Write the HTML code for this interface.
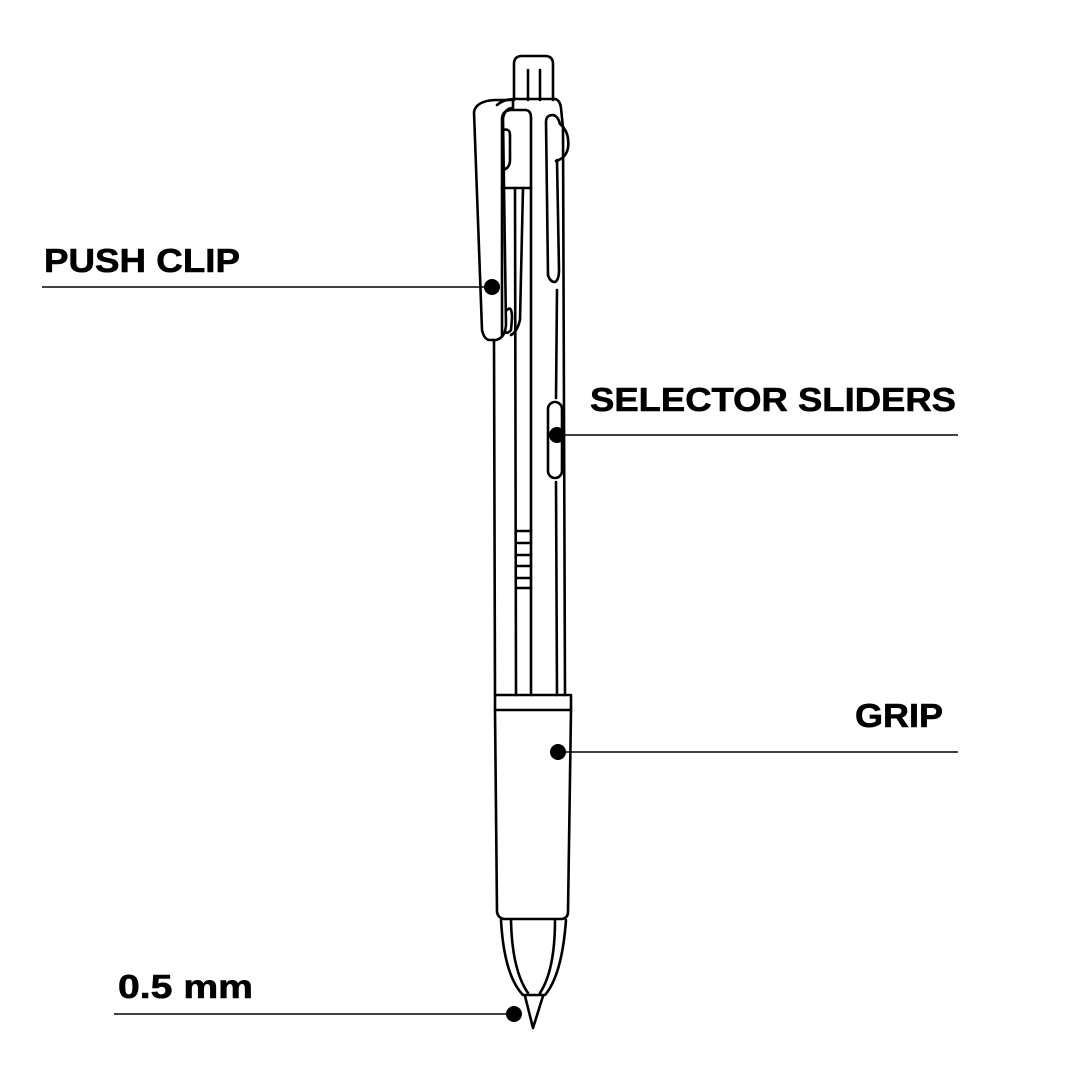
<!DOCTYPE html>
<html><head><meta charset="utf-8"><style>
html,body{margin:0;padding:0;background:#fff;}
svg{display:block}
text{font-family:"Liberation Sans",sans-serif;font-weight:bold;font-size:33px;fill:#000;stroke:#000;stroke-width:0.6;}
</style></head><body>
<svg width="1080" height="1080" viewBox="0 0 1080 1080" xmlns="http://www.w3.org/2000/svg">
<g fill="none" stroke="#000" stroke-width="2.6" stroke-linejoin="round" stroke-linecap="round">
  <path d="M514,100 L514,64 Q514,56 522,56 L545,56 Q553,56 553,64 L553,100"/>
  <line x1="528" y1="70" x2="528" y2="100"/>
  <line x1="540" y1="70" x2="540" y2="100"/>
  <path d="M497,105 Q505,98 520,99 L555,99 Q560,100 561,108 L563,128 L565,695"/>
  <path d="M502,335 L502,120 Q502,110 512,110 L525,110 Q531,110 531,118 L531,695"/>
  <path d="M502,188 L531,188"/>
  <path d="M503,130 Q510,128 510,135 L510,160 Q510,168 503,170"/>
  <path d="M474,112 Q476,101 495,100 L513,100 L513,108 Q505,108 503,118 L506,325 Q505,338 496,340 L489,340 Q484,339 482,330 L474,112 Z"/>
  <path d="M507,310 Q512,305 512,318 L511,330 Q508,334 505,332"/>
  <path d="M515,188 L516,695"/>
  <path d="M523,188 L520,320 Q517,332 511,335"/>
  <path d="M548,275 L546,122 Q546,115 553,115 Q558,116 560,124 Q570,132 568,148 Q566,158 556,161"/>
  <path d="M548,275 Q550,282 555,282 Q559,280 559,270 L557,160"/>
  <line x1="557" y1="290" x2="556" y2="398"/>
  <rect x="548" y="402" width="14" height="76" rx="7"/>
  <line x1="556" y1="482" x2="557" y2="695"/>
  <line x1="494" y1="340" x2="495" y2="695"/>
  <line x1="516" y1="531" x2="531" y2="531"/>
  <line x1="516" y1="543" x2="531" y2="543"/>
  <line x1="516" y1="555" x2="531" y2="555"/>
  <line x1="516" y1="566" x2="531" y2="566"/>
  <line x1="516" y1="578" x2="531" y2="578"/>
  <line x1="516" y1="588" x2="531" y2="588"/>
  <path d="M495,695 L571,695 L571,710 L495,710 Z"/>
  <path d="M495,710 L497,912 Q498,918 504,919 L562,919 Q568,918 568,912 L571,710"/>
  <path d="M501,920 Q504,975 523,995 L545,995 Q562,975 566,920"/>
  <path d="M511,920 Q512,970 528,993"/>
  <path d="M555,920 Q555,970 540,993"/>
  <path d="M525,996 L533,1028 L543,996"/>
</g>
<g stroke="#000" stroke-width="1.6">
  <line x1="42" y1="287" x2="492" y2="287"/>
  <line x1="557" y1="435" x2="958" y2="435"/>
  <line x1="558" y1="752" x2="958" y2="752"/>
  <line x1="114" y1="1014" x2="514" y2="1014"/>
</g>
<g fill="#000">
  <circle cx="492" cy="287" r="8"/>
  <circle cx="557" cy="435" r="8"/>
  <circle cx="558" cy="752" r="8"/>
  <circle cx="514" cy="1014" r="8"/>
</g>
<text x="44" y="272" textLength="196" lengthAdjust="spacingAndGlyphs">PUSH CLIP</text>
<text x="590" y="411" textLength="366" lengthAdjust="spacingAndGlyphs">SELECTOR SLIDERS</text>
<text x="855" y="727" textLength="88" lengthAdjust="spacingAndGlyphs">GRIP</text>
<text x="118" y="998" textLength="135" lengthAdjust="spacingAndGlyphs">0.5 mm</text>
</svg>
</body></html>
